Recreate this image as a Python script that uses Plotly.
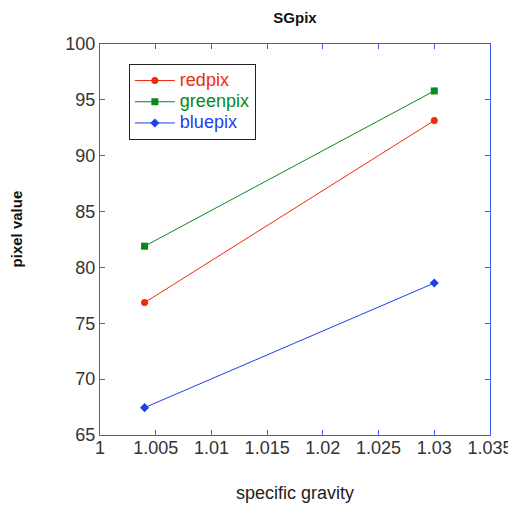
import plotly.graph_objects as go

sg = [1.004, 1.03]
redpix = [76.85, 93.15]
greenpix = [81.9, 95.8]
bluepix = [67.45, 78.6]
x_ticks = [1, 1.005, 1.01, 1.015, 1.02, 1.025, 1.03, 1.035]
x_ticklabels = ["1", "1.005", "1.01", "1.015", "1.02", "1.025", "1.03", "1.035"]
y_ticks = [65, 70, 75, 80, 85, 90, 95, 100]

RED = "#f02a0a"
GREEN = "#08891a"
BLUE = "#1c3ff0"
FRAME = "#3a5cf2"
FONT = "Liberation Sans, Arial"

W, H = 508, 498  # page body has an 8px margin


def legend_name(text, color):
    return f"<span style='color:{color};font-size:18px'>{text}</span>"


fig = go.Figure()
fig.add_trace(go.Scatter(x=sg, y=redpix, mode="lines+markers",
                         name=legend_name("redpix", RED),
                         line=dict(color=RED, width=1),
                         marker=dict(symbol="circle", size=7, color=RED)))
fig.add_trace(go.Scatter(x=sg, y=greenpix, mode="lines+markers",
                         name=legend_name("greenpix", GREEN),
                         line=dict(color=GREEN, width=1),
                         marker=dict(symbol="square", size=7, color=GREEN)))
fig.add_trace(go.Scatter(x=sg, y=bluepix, mode="lines+markers",
                         name=legend_name("bluepix", BLUE),
                         line=dict(color=BLUE, width=1),
                         marker=dict(symbol="diamond", size=7, color=BLUE)))

axis_common = dict(showgrid=False, zeroline=False, showline=True, linecolor=FRAME,
                   linewidth=1, mirror="ticks", ticks="inside", ticklen=5,
                   tickcolor=FRAME, automargin=False,
                   tickfont=dict(family=FONT, size=18, color="#333333"))

fig.update_layout(
    width=W, height=H,
    paper_bgcolor="white", plot_bgcolor="white",
    margin=dict(l=92, r=26, t=36, b=71),
    title=dict(text="<b>SGpix</b>", x=0.5, xref="paper", xanchor="center",
               y=1 - 10 / H, yref="container", yanchor="middle",
               font=dict(family=FONT, size=15, color="#111111")),
    xaxis=dict(range=[1, 1.035], tickvals=x_ticks, ticktext=x_ticklabels,
               ticklabelstandoff=-4,
               title=dict(text="specific gravity", standoff=29,
                          font=dict(family=FONT, size=18, color="#222222")),
               **axis_common),
    yaxis=dict(range=[65, 100], tickvals=y_ticks,
               title=dict(text="&nbsp;" * 5 + "<b>pixel value</b>", standoff=40,
                          font=dict(family=FONT, size=15, color="#111111")),
               **axis_common),
    legend=dict(x=0.074, y=0.949, xanchor="left", yanchor="top",
                bordercolor="#222222", borderwidth=1, bgcolor="white",
                font=dict(family=FONT, size=14),
                itemwidth=40, tracegroupgap=0),
    showlegend=True,
)

fig.write_html("out.html")
